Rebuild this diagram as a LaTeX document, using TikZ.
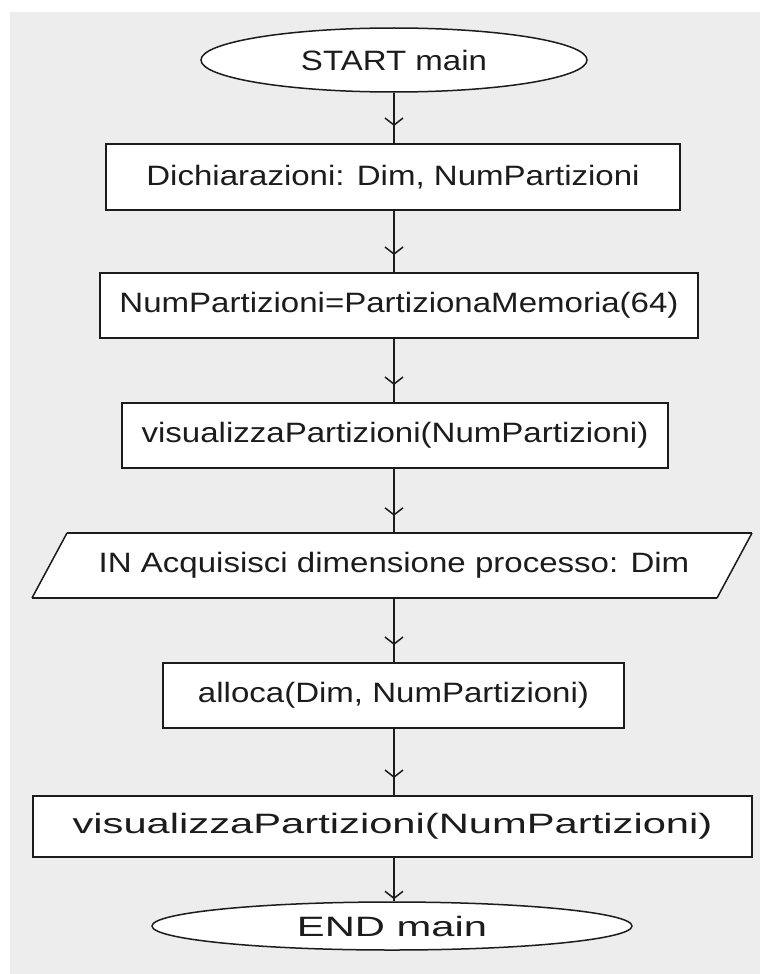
\documentclass[tikz,border=0pt]{standalone}
\usepackage{fontspec}
\setmainfont[FakeStretch=1.18]{Liberation Sans}
\newfontfamily\widefont[FakeStretch=1.49]{Liberation Sans}
\usetikzlibrary{shapes.geometric,arrows.meta,calc}
\definecolor{bgc}{HTML}{EDEDED}
\definecolor{ln}{HTML}{1C1C1C}
\begin{document}
\begin{tikzpicture}[x=1pt,y=-1pt,
  txt/.style={font=\fontsize{28}{34}\selectfont, text=ln},
  wtxt/.style={font=\widefont\fontsize{28}{34}\selectfont, text=ln},
  procbox/.style={rectangle, draw=ln, line width=2pt, fill=white, inner sep=0pt},
  term/.style={ellipse, draw=ln, line width=1.5pt, fill=white, inner sep=0pt},
  flow/.style={draw=ln, line width=1.8pt,
    postaction={draw=ln, line width=1.5pt, shorten >=#1, -{Straight Barb[length=7pt,width=18pt]}}},
  flow/.default=17pt
]
\useasboundingbox (0,0) rectangle (760,974);
\fill[white] (0,0) rectangle (760,974);
\fill[bgc] (10,12) rectangle (760,974);

\node[term, txt, minimum width=386pt, minimum height=64pt] (start) at (394,60) {START main};
\node[procbox, txt, minimum width=574pt, minimum height=66pt] (b1) at (393,177) {Dichiarazioni: Dim, NumPartizioni};
\node[procbox, txt, minimum width=598pt, minimum height=65pt] (b2) at (399,305.5) {NumPartizioni=PartizionaMemoria(64)};
\node[procbox, txt, minimum width=546pt, minimum height=65pt] (b3) at (395,435.5) {visualizzaPartizioni(NumPartizioni)};
% input parallelogram
\fill[white] (32,598) -- (717,598) -- (752,533) -- (67,533) -- cycle;
\draw[ln, line width=2pt] (32,598) -- (717,598);
\draw[ln, line width=2pt] (67,533) -- (752,533);
\draw[ln, line width=1.5pt] (32,598) -- (67,533);
\draw[ln, line width=1.5pt] (717,598) -- (752,533);
\node[txt, rectangle, inner sep=0pt, minimum width=600pt, minimum height=65pt] (inp) at (394,565.5) {IN Acquisisci dimensione processo: Dim};
\node[procbox, txt, minimum width=461pt, minimum height=65pt] (b5) at (393.5,695.5) {alloca(Dim, NumPartizioni)};
\node[procbox, wtxt, minimum width=719pt, minimum height=61pt] (b6) at (392.5,826.5) {visualizzaPartizioni(NumPartizioni)};
\node[term, wtxt, minimum width=480pt, minimum height=48pt] (end) at (392,926) {END main};

\draw[flow] (start.south) -- (start.south |- b1.north);
\draw[flow] (b1.south -| start.south) -- (start.south |- b2.north);
\draw[flow] (b2.south -| start.south) -- (start.south |- b3.north);
\draw[flow] (b3.south -| start.south) -- (start.south |- inp.north);
\draw[flow] (inp.south -| start.south) -- (start.south |- b5.north);
\draw[flow] (b5.south -| start.south) -- (start.south |- b6.north);
\draw[flow=2pt] (b6.south -| start.south) -- (start.south |- end.north);
\end{tikzpicture}
\end{document}
